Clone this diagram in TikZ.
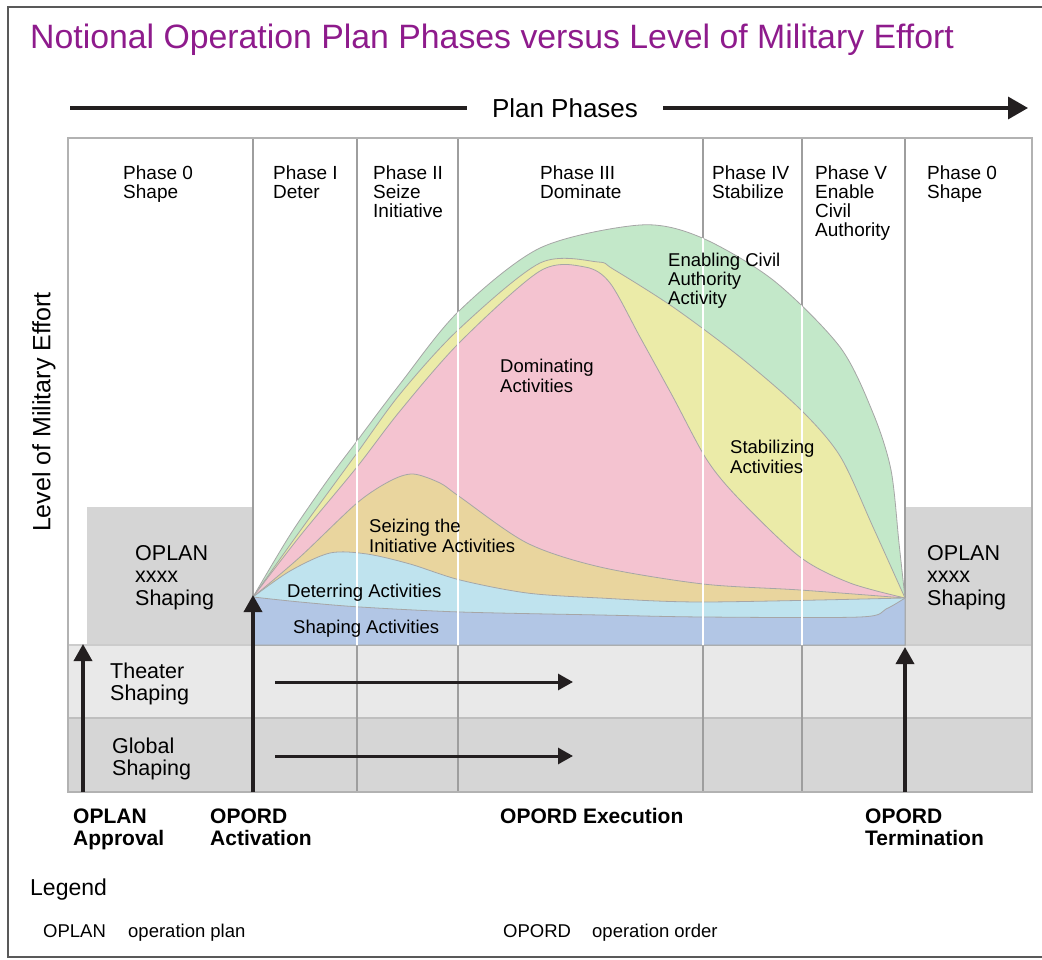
\documentclass[tikz,border=0pt]{standalone}
\usepackage{fontspec}
\setmainfont{Liberation Sans}
\usetikzlibrary{arrows.meta}
\definecolor{titlepurple}{HTML}{8E1B8C}
\definecolor{enabgreen}{HTML}{C3E8C9}
\definecolor{stabyellow}{HTML}{EBEBA8}
\definecolor{domipink}{HTML}{F4C3D0}
\definecolor{seizorange}{HTML}{E9D59E}
\definecolor{detecyan}{HTML}{BFE3EE}
\definecolor{shapblue}{HTML}{B2C6E5}
\definecolor{boxgray}{HTML}{D5D5D5}
\definecolor{theatgray}{HTML}{E9E9E9}
\definecolor{globgray}{HTML}{D6D6D6}
\definecolor{arrowblack}{HTML}{231F20}
\tikzset{titletxt/.style={inner sep=0pt,anchor=base west,text=titlepurple,font=\fontsize{33.8}{36}\selectfont}}
\tikzset{planlbl/.style={inner ysep=0pt,inner xsep=25pt,font=\fontsize{26}{28}\selectfont}}
\tikzset{phase/.style={inner sep=0pt,anchor=base west,align=left,font=\fontsize{19}{19}\selectfont}}
\tikzset{act/.style={inner sep=0pt,anchor=base west,align=left,font=\fontsize{18.5}{19.5}\selectfont}}
\tikzset{boxtxt/.style={inner sep=0pt,anchor=base west,align=left,font=\fontsize{21.5}{22.5}\selectfont}}
\tikzset{bandtxt/.style={inner sep=0pt,anchor=base west,align=left,font=\fontsize{21.5}{22}\selectfont}}
\tikzset{milestone/.style={inner sep=0pt,anchor=base west,align=left,font=\fontsize{21}{22}\selectfont\bfseries}}
\tikzset{legendhead/.style={inner sep=0pt,anchor=base west,font=\fontsize{23}{24}\selectfont}}
\tikzset{legendtxt/.style={inner sep=0pt,anchor=base west,font=\fontsize{18.5}{19}\selectfont}}
\tikzset{axistxt/.style={inner sep=0pt,font=\fontsize{25}{26}\selectfont}}
\tikzset{edge/.style={draw=black!35,line width=0.8pt}}
\tikzset{phaseline/.style={draw=black!38,line width=1.5pt}}
\tikzset{whiteline/.style={draw=white,line width=1.5pt}}
\tikzset{bigarrow/.style={draw=arrowblack,line width=3.5pt,-{Triangle[width=18pt,length=17pt]}}}
\tikzset{bandarrow/.style={draw=arrowblack,line width=3pt,-{Triangle[width=16pt,length=15pt]}}}
\begin{document}
\begin{tikzpicture}[x=1pt,y=-1pt]
                \useasboundingbox (0,0) rectangle (1042,960);
                % outer frame and title
                \draw[draw=black!65,line width=1.5pt] (1045,7) -- (8,7) -- (8,957) -- (1045,957);
                \node [titletxt] (title) at (30,49) {Notional Operation Plan Phases versus Level of Military Effort};
                
                % plan phases arrow
                \node [planlbl] (plan) at (565,108) {Plan Phases};
                \coordinate (planS) at (70,108);
                \coordinate (planE) at (1028,108);
                \draw [draw=arrowblack,line width=3.5pt] (planS) -- (plan.west);
                \draw [draw=arrowblack,line width=3.5pt,-{Triangle[width=22pt,length=20pt]}] (plan.east) -- (planE);
                
                % bands and shaping boxes
                \fill [theatgray] (68,645) rectangle (1032,718);
                \fill [globgray] (68,718) rectangle (1032,792);
                \fill [boxgray] (87,507) rectangle (253,645);
                \fill [boxgray] (905,507) rectangle (1032,645);
                \draw [draw=black!20,line width=1.2pt] (68,645) -- (1032,645);
                \draw [draw=black!25,line width=1.2pt] (68,718) -- (1032,718);
                
                % phase lines
                \foreach \x in {357,458,703,802}
                \draw [phaseline] (\x,138) -- (\x,792);
                \foreach \x in {253,905}
                \draw [phaseline] (\x,138) -- (\x,645);
                
                % activity areas
                \filldraw [enabgreen,edge,save path=\greenarea] plot [smooth] coordinates {(253,597) (290,535) (327,481) (357,441) (400,384) (458,312) (540,248) (640,225) (700,237) (773,280) (840,347) (873,413) (891,470) (899,543) (905,598)} -- (905,645) -- (253,645) -- cycle;
                \filldraw [stabyellow,edge] plot [smooth] coordinates {(253,597) (300,531) (357,453) (400,394) (458,330) (540,263) (598,262) (613,269) (673,307) (740,357) (800,409) (840,456) (873,527) (905,598)} -- (905,645) -- (253,645) -- cycle;
                \filldraw [domipink,edge] plot [smooth] coordinates {(253,597) (300,536) (357,467) (400,411) (460,342) (540,271) (585,267) (610,283) (640,337) (673,397) (707,460) (740,500) (800,557) (850,583) (905,598)} -- (905,645) -- (253,645) -- cycle;
                \filldraw [seizorange,edge] plot [smooth] coordinates {(253,597) (300,557) (357,503) (390,481) (413,474) (440,483) (460,497) (527,543) (600,567) (703,584) (800,590) (905,598)} -- (905,645) -- (253,645) -- cycle;
                \filldraw [detecyan,edge] plot [smooth] coordinates {(253,597) (290,571) (330,553) (367,554) (410,564) (460,580) (527,593) (600,598) (703,602) (905,598)} -- (905,645) -- (253,645) -- cycle;
                \filldraw [shapblue,edge] plot [smooth] coordinates {(253,597) (300,602) (360,607) (460,612) (600,615) (703,617) (860,617) (886,609) (905,598)} -- (905,645) -- (253,645) -- cycle;
                \begin{scope}
                \clip [use path=\greenarea];
                \foreach \x in {357,458,703,802}
                \draw [whiteline] (\x,138) -- (\x,645);
                \end{scope}
                
                % chart frame
                \draw [draw=black!30,line width=1.5pt] (68,138) rectangle (1032,792);
                
                % phase titles (placed at the baseline of the last line)
                \node [phase] (ph0a) at (123,199) {Phase 0\\Shape};
                \node [phase] (ph1) at (273,199) {Phase I\\Deter};
                \node [phase] (ph2) at (373,218) {Phase II\\Seize\\Initiative};
                \node [phase] (ph3) at (540,199) {Phase III\\Dominate};
                \node [phase] (ph4) at (712,199) {Phase IV\\Stabilize};
                \node [phase] (ph5) at (815,237) {Phase V\\Enable\\Civil\\Authority};
                \node [phase] (ph0b) at (927,199) {Phase 0\\Shape};
                
                % activity labels
                \node [act] (enab) at (668,305) {Enabling Civil\\Authority\\Activity};
                \node [act] (domi) at (500,392) {Dominating\\Activities};
                \node [act] (stab) at (730,473) {Stabilizing\\Activities};
                \node [act] (seiz) at (369,552) {Seizing the\\Initiative Activities};
                \node [act] (dete) at (287,597) {Deterring Activities};
                \node [act] (shap) at (293,633) {Shaping Activities};
                
                % shaping boxes and bands
                \node [boxtxt] (oplanL) at (135,605) {OPLAN\\xxxx\\Shaping};
                \node [boxtxt] (oplanR) at (927,605) {OPLAN\\xxxx\\Shaping};
                \node [bandtxt] (theat) at (110,700) {Theater\\Shaping};
                \node [bandtxt] (glob) at (112,775) {Global\\Shaping};
                \node [axistxt,rotate=90] (axis) at (44,412) {Level of Military Effort};
                
                % milestones
                \node [milestone] (appr) at (73,845) {OPLAN\\Approval};
                \node [milestone] (actv) at (210,845) {OPORD\\Activation};
                \node [milestone] (exec) at (500,823) {OPORD Execution};
                \node [milestone] (term) at (865,845) {OPORD\\Termination};
                
                \coordinate (apprFoot) at (83,792);
                \coordinate (apprHead) at (83,644);
                \coordinate (actvFoot) at (253,792);
                \coordinate (actvHead) at (253,595);
                \coordinate (termFoot) at (905,792);
                \coordinate (termHead) at (905,647);
                \foreach \m in {appr,actv,term}
                \draw [bigarrow] (\m Foot) -- (\m Head);
                
                \coordinate (theatS) at (275,682);
                \coordinate (theatE) at (573,682);
                \coordinate (globS) at (275,756);
                \coordinate (globE) at (573,756);
                \foreach \b in {theat,glob}
                \draw [bandarrow] (\b S) -- (\b E);
                
                % legend
                \node [legendhead] (leg) at (30,895) {Legend};
                \node [legendtxt] (legA) at (43,937) {OPLAN};
                \node [legendtxt] (legAd) at (128,937) {operation plan};
                \node [legendtxt] (legB) at (503,937) {OPORD};
                \node [legendtxt] (legBd) at (592,937) {operation order};
            \end{tikzpicture}
\end{document}
